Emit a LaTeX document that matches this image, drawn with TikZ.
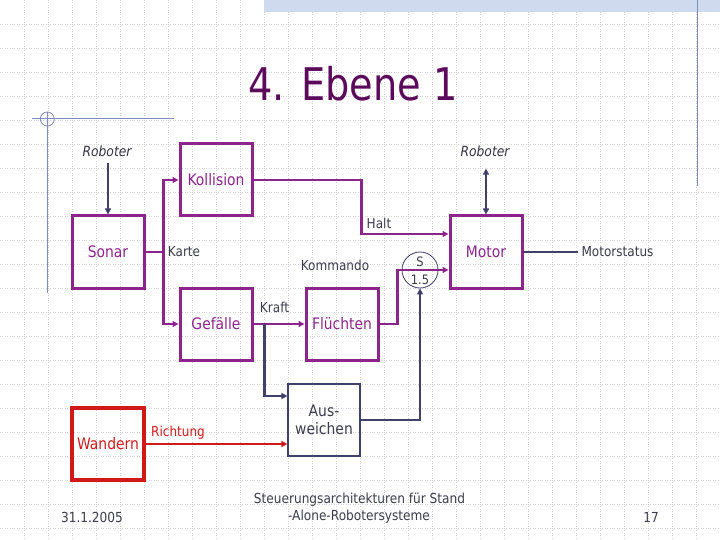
\documentclass[tikz,border=0pt]{standalone}
\usepackage{fontspec}
\setmainfont{DejaVu Sans}[FakeStretch=0.88]
\newfontfamily\titlefont{DejaVu Sans}[FakeStretch=0.85]
\usetikzlibrary{arrows.meta,calc}
\definecolor{purp}{RGB}{140,36,140}
\definecolor{titlec}{RGB}{92,10,92}
\definecolor{navy}{RGB}{64,64,104}
\definecolor{txt}{RGB}{60,60,76}
\definecolor{redb}{RGB}{208,26,26}
\definecolor{gridc}{RGB}{212,212,220}
\definecolor{marginc}{RGB}{125,140,185}
\definecolor{bandc}{RGB}{208,218,238}
\tikzset{
  gridline/.style={gridc,line width=0.6pt,dash pattern=on 0.8pt off 1.6pt},
  mline/.style={marginc,line width=1pt},
  pbox/.style={draw=purp,line width=3pt,minimum width=72pt,minimum height=72pt,inner sep=0pt,text=purp,font=\fontsize{15.8}{18.5}\selectfont},
  abox/.style={draw=navy,line width=1.2pt,minimum width=72pt,minimum height=72pt,inner sep=0pt,text=txt,align=center,font=\fontsize{15.8}{18.5}\selectfont},
  rbox/.style={draw=redb,line width=3.6pt,minimum width=72pt,minimum height=72pt,inner sep=0pt,text=redb,font=\fontsize{15.8}{18.5}\selectfont},
  lbl/.style={text=txt,font=\fontsize{13.7}{16}\selectfont},
  itlbl/.style={text=txt!85!black,inner sep=0pt,font=\fontsize{14}{16}\selectfont\itshape},
  foot/.style={text=txt,font=\fontsize{13.8}{17}\selectfont},
  tip/.style={-{Triangle[length=6pt,width=6pt]}},
  pline/.style={purp,line width=2.8pt,tip},
  nline/.style={navy,line width=2.4pt,tip},
  rline/.style={redb,line width=2.6pt,tip},
}
\begin{document}
\begin{tikzpicture}[x=1pt,y=-1pt]
\useasboundingbox (0,0) rectangle (720,540);
\fill[white] (0,0) rectangle (720,540);
% grid
\foreach \i in {24,48,...,696} \draw[gridline] (\i,0) -- (\i,540);
\foreach \j in {24,48,...,528} \draw[gridline] (0,\j) -- (720,\j);
% slide decoration
\fill[bandc] (264,0) rectangle (720,12.5);
\draw[mline] (697,0) -- (697,186);
\draw[mline] (32,119) -- (174,119);
\draw[mline] (47.3,112) -- (47.3,293);
\draw[marginc,line width=0.8pt] (47.3,119) circle (7pt);
% title
\node[anchor=base,text=titlec,font=\titlefont\fontsize{45}{50}\selectfont] (title) at (353,100.7) {4. Ebene 1};
% boxes
\node[pbox] (sonar) at (108,252) {Sonar};
\node[pbox] (koll) at (216,180) {Kollision};
\node[pbox] (motor) at (486,252) {Motor};
\node[pbox] (gef) at (216,324) {Gefälle};
\node[pbox] (flu) at (342,324) {Flüchten};
\node[abox] (ausw) at (324,420) {Aus-\\weichen};
\node[rbox] (wand) at (108,444) {Wandern};
\node[circle,draw=navy,line width=0.8pt,minimum size=36pt,inner sep=0pt] (sw) at (420,270) {};
\node[lbl,inner sep=0pt,font=\fontsize{13}{15}\selectfont] (swS) at (420,262) {S};
\node[lbl,inner sep=0pt,font=\fontsize{13}{15}\selectfont] (swN) at (420,280) {1.5};
% labels
\node[itlbl] (rob1) at (107,151) {Roboter};
\node[itlbl] (rob2) at (485,151) {Roboter};
\node[lbl] (karte) at (184,252) {Karte};
\node[lbl] (halt) at (379,223) {Halt};
\node[lbl] (komm) at (335,265) {Kommando};
\node[lbl] (kraft) at (274.5,307) {Kraft};
\node[lbl,text=redb] (richt) at (178,433) {Richtung};
\node[lbl] (mstat) at (617.5,252) {Motorstatus};
% connectors
\draw[purp,line width=2.8pt] (sonar.east) -- ++(18,0) coordinate (bus);
\draw[pline] (bus) |- (koll.west);
\draw[pline] (bus) |- (gef.west);
\draw[pline] (koll.east) -- ++(108,0) |- ([yshift=18pt]motor.west);
\draw[pline] (gef.east) -- (flu.west);
\coordinate (tap) at (264.3,324);
\draw[nline] (tap) |- ([yshift=24pt]ausw.west);
\draw[pline] (flu.east) -- ++(18,0) |- ([yshift=-18pt]motor.west);
\draw[nline] (ausw.east) -| (sw.south);
\draw[rline] (wand.east) -- ([yshift=-24pt]ausw.west);
\draw[nline] ($(rob1.south -| sonar.north)+(0,6)$) -- (sonar.north);
\draw[nline,{Triangle[length=6pt,width=6pt]}-{Triangle[length=6pt,width=6pt]}] ($(rob2.south -| motor.north)+(0,12)$) -- (motor.north);
\draw[navy,line width=1.1pt] (motor.east) -- (mstat.west);
% footer
\node[foot] (date) at (92,517) {31.1.2005};
\node[foot] (ft1) at (359.5,500) {Steuerungsarchitekturen für Stand};
\node[foot] (ft2) at (359,517) {-Alone-Robotersysteme};
\node[foot] (page) at (651,517) {17};
\end{tikzpicture}
\end{document}
